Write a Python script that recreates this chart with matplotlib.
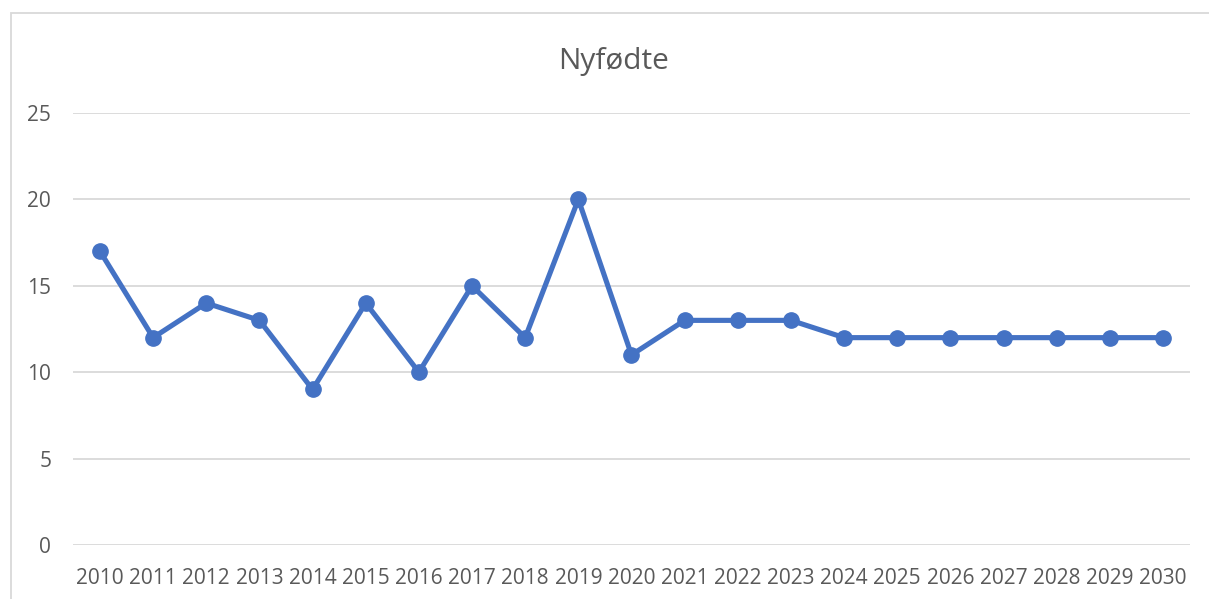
import matplotlib
matplotlib.use("Agg")
import matplotlib.pyplot as plt
from matplotlib.patches import Rectangle

# data
aar = [str(a) for a in range(2010, 2031)]
nyfodte = [17, 12, 14, 13, 9, 14, 10, 15, 12, 20, 11, 13, 13, 13, 12, 12, 12, 12, 12, 12, 12]
yticks = [0, 5, 10, 15, 20, 25]

W, H = 1209, 599
fig = plt.figure(figsize=(W / 100, H / 100), dpi=100)
plt.rcParams['font.family'] = ['Open Sans', 'DejaVu Sans']

# light frame round the chart (right and bottom edges fall outside the picture)
fig.patches.append(Rectangle((10.5 / W, -0.1), 1.2, (H - 13) / H + 0.1,
                             transform=fig.transFigure, fill=False,
                             edgecolor='#D9D9D9', linewidth=1.3))

ax = fig.add_axes([73.4 / W, 54 / H, 1116.2 / W, 432 / H])
x = list(range(len(aar)))
ax.plot(x, nyfodte, color='#4472C4', linewidth=3.7, marker='o', markersize=11,
        clip_on=False, zorder=3)

ax.set_xlim(-0.5, len(aar) - 0.5)
ax.set_ylim(0, 25)
ax.set_xticks(x)
ax.set_xticklabels(aar)
ax.set_yticks(yticks)
ax.grid(axis='y', color='#D9D9D9', linewidth=1.3)
ax.set_axisbelow(True)
for s in ax.spines.values():
    s.set_visible(False)
ax.tick_params(axis='both', length=0, labelcolor='#595959', labelsize=15)
ax.tick_params(axis='x', pad=16.5)
ax.tick_params(axis='y', pad=16)

fig.text(614 / W, 1 - 61 / H, 'Nyfødte', ha='center', va='center',
         fontsize=21.5, color='#595959')

fig.savefig('out.png', dpi=100)
